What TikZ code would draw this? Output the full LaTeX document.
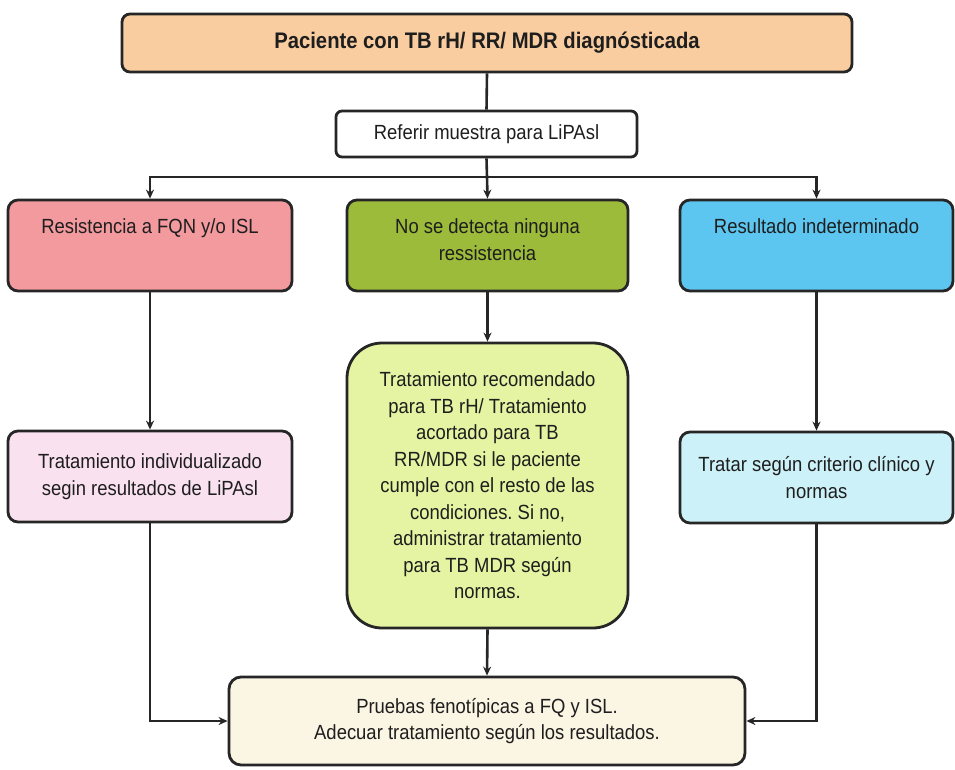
\documentclass[tikz,border=0pt]{standalone}
\usepackage{fontspec}
\setmainfont{Liberation Sans}[FakeStretch=0.9]
\usetikzlibrary{arrows.meta}
\definecolor{peachf}{HTML}{F9CDA0}
\definecolor{redf}{HTML}{F39A9F}
\definecolor{greenf}{HTML}{9CBB3B}
\definecolor{bluef}{HTML}{5CC6F0}
\definecolor{pinkf}{HTML}{F9E1F0}
\definecolor{limef}{HTML}{E5F4A2}
\definecolor{cyanf}{HTML}{CDF1F8}
\definecolor{creamf}{HTML}{FBF5E4}
\definecolor{edgec}{HTML}{262626}
\definecolor{txtc}{HTML}{1E1E1E}
\newcommand\toptxt[2]{\parbox[c][89pt][t]{#1}{\centering\vspace*{18pt}#2\par}}
\frenchspacing
\begin{document}
\begin{tikzpicture}[x=1pt,y=-1pt,
  bx/.style={draw=edgec, line width=2.8pt, rounded corners=10pt, inner sep=0pt,
    align=center, text=txtc, font=\fontsize{20.5}{26.5}\selectfont},
  ln/.style={draw=edgec, line width=2.6pt},
  ar/.style={ln, -{Stealth[length=9pt,width=8pt]}}]
\useasboundingbox (0,0) rectangle (955,769);

\node[bx, fill=peachf, minimum width=730pt, minimum height=58pt, rounded corners=8pt,
  font=\bfseries\fontsize{22.5}{27}\selectfont] (top) at (487,43)
  {Paciente con TB rH/ RR/ MDR diagnósticada};
\node[bx, fill=white, minimum width=301pt, minimum height=46pt, rounded corners=6pt]
  (ref) at (486.5,134) {Referir muestra para LiPAsl};

\node[bx, fill=redf, minimum width=284pt, minimum height=91pt] (res) at (150,245.5)
  {\toptxt{270pt}{Resistencia a FQN y/o ISL}};
\node[bx, fill=greenf, minimum width=281pt, minimum height=91pt] (nod) at (487.5,245.5)
  {\toptxt{265pt}{No se detecta ninguna\\ ressistencia}};
\node[bx, fill=bluef, minimum width=273pt, minimum height=91pt] (ind) at (816.5,245.5)
  {\toptxt{260pt}{Resultado indeterminado}};

\node[bx, fill=pinkf, minimum width=284pt, minimum height=91pt] (ti) at (150,476.5)
  {Tratamiento individualizado\\ segin resultados de LiPAsl};
\node[bx, fill=limef, minimum width=281pt, minimum height=285pt, rounded corners=35pt]
  (tr) at (487.5,485.5)
  {Tratamiento recomendado\\ para TB rH/ Tratamiento\\ acortado para TB\\
   RR/MDR si le paciente\\ cumple con el resto de las\\ condiciones. Si no,\\
   administrar tratamiento\\ para TB MDR según\\ normas.};
\node[bx, fill=cyanf, minimum width=273pt, minimum height=91pt] (tc) at (816.5,477.5)
  {Tratar según criterio clínico y\\ normas};

\node[bx, fill=creamf, minimum width=516pt, minimum height=88pt, rounded corners=12pt]
  (pf) at (487,721)
  {Pruebas fenotípicas a FQ y ISL.\\ Adecuar tratamiento según los resultados.};

\coordinate (j) at (487,177);
\draw[ln] (top.south) -- (ref.north);
\draw[ln] (ref.south) -- (j);
\draw[ar] (j) -| (res.north);
\draw[ar] (j) -- (nod.north);
\draw[ar] (j) -| (ind.north);
\draw[ar] (res.south) -- (ti.north);
\draw[ar] (nod.south) -- (tr.north);
\draw[ar] (ind.south) -- (tc.north);
\draw[ar] (ti.south) |- (pf.west);
\draw[ar] (tr.south) -- (pf.north);
\draw[ar] (tc.south) |- (pf.east);
\end{tikzpicture}
\end{document}
